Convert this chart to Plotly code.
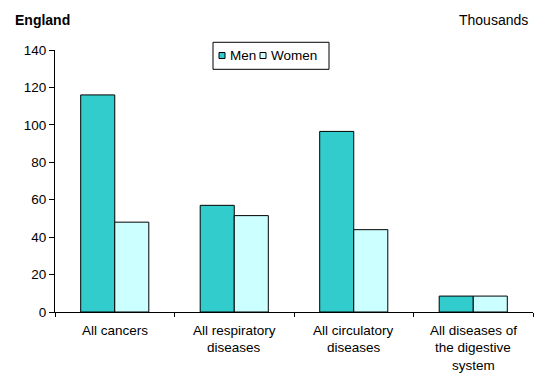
import plotly.graph_objects as go

# Deaths by cause, England (thousands)
categories = ["All cancers", "All respiratory diseases", "All circulatory diseases",
              "All diseases of the digestive system"]
category_lines = [["All cancers"],
                  ["All respiratory", "diseases"],
                  ["All circulatory", "diseases"],
                  ["All diseases of", "the digestive", "system"]]
men = [116, 57, 96.5, 8.5]
women = [48, 51.5, 44, 8.5]
y_ticks = [0, 20, 40, 60, 80, 100, 120, 140]
series_names = ["Men", "Women"]

MEN_COLOR = "#33CCCC"
WOMEN_COLOR = "#CCFFFF"
FONT = "Liberation Sans, Arial, sans-serif"

W, H = 543, 374
M_L, M_R, M_T, M_B = 55, 10, 50, 62.3
PW, PH = W - M_L - M_R, H - M_T - M_B


def px(x):
    """Pixel x -> paper x."""
    return (x - M_L) / PW


def py(y):
    """Pixel y (from top) -> paper y."""
    return (H - M_B - y) / PH


fig = go.Figure()
fig.add_trace(go.Bar(x=categories, y=men, name=series_names[0],
                     marker=dict(color=MEN_COLOR, line=dict(color="#000000", width=1))))
fig.add_trace(go.Bar(x=categories, y=women, name=series_names[1],
                     marker=dict(color=WOMEN_COLOR, line=dict(color="#000000", width=1))))

# Category labels, one annotation per line for wider line spacing
annotations = []
for cat, lines in zip(categories, category_lines):
    for i, line in enumerate(lines):
        annotations.append(dict(x=cat, y=0, xref="x", yref="paper", text=line,
                                showarrow=False, yanchor="middle", xanchor="center",
                                yshift=-18.3 - 17.6 * i,
                                font=dict(family=FONT, size=13.5, color="#000000")))

annotations += [
    dict(x=px(13), y=py(20.5), xref="paper", yref="paper", text="<b>England</b>",
         showarrow=False, xanchor="left", yanchor="middle",
         font=dict(family=FONT, size=14, color="#000000")),
    dict(x=px(530), y=py(20.5), xref="paper", yref="paper", text="Thousands",
         showarrow=False, xanchor="right", yanchor="middle",
         font=dict(family=FONT, size=14, color="#000000")),
]

# Boxed legend with small square swatches
shapes = [dict(type="rect", xref="paper", yref="paper",
               x0=px(213), x1=px(329), y0=py(42.3), y1=py(69.3),
               line=dict(color="#000000", width=1), fillcolor="#FFFFFF", layer="above")]
legend_cy = 55.5
for name, color, sx in zip(series_names, [MEN_COLOR, WOMEN_COLOR], [219, 260]):
    shapes.append(dict(type="rect", xref="paper", yref="paper",
                       x0=px(sx), x1=px(sx + 6), y0=py(legend_cy - 3), y1=py(legend_cy + 3),
                       line=dict(color="#000000", width=1), fillcolor=color, layer="above"))
    annotations.append(dict(x=px(sx + 9), y=py(legend_cy), xref="paper", yref="paper",
                            text=name, showarrow=False, xanchor="left", yanchor="middle",
                            font=dict(family=FONT, size=13.5, color="#000000")))

fig.update_layout(
    width=W, height=H,
    margin=dict(l=M_L, r=M_R, t=M_T, b=M_B),
    paper_bgcolor="#FFFFFF", plot_bgcolor="#FFFFFF",
    barmode="group", bargap=0.43, bargroupgap=0,
    font=dict(family=FONT, size=13.5, color="#000000"),
    showlegend=False,
    annotations=annotations,
    shapes=shapes,
)
fig.update_xaxes(showticklabels=False, showline=True, linecolor="#000000", linewidth=1,
                 ticks="outside", ticklen=4, tickcolor="#000000", tickson="boundaries",
                 showgrid=False, zeroline=False)
fig.update_yaxes(range=[0, 140], tickvals=y_ticks, showline=True, linecolor="#000000",
                 linewidth=1, ticks="outside", ticklen=5, tickcolor="#000000",
                 showgrid=False, zeroline=False,
                 tickfont=dict(family=FONT, size=13.5, color="#000000"))

fig.write_html("out.html")
